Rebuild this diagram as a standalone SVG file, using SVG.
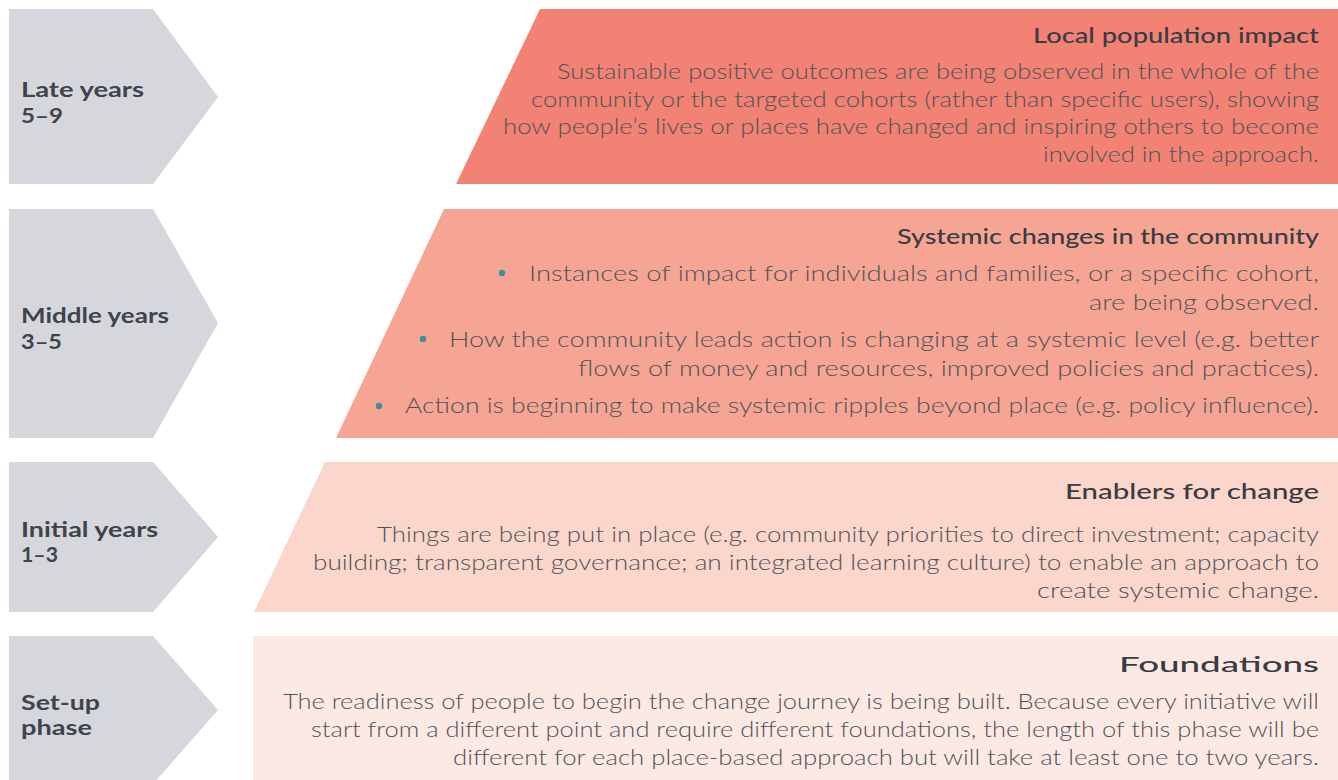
<svg xmlns="http://www.w3.org/2000/svg" width="1338" height="780" viewBox="0 0 1338 780">
<style>
.chev{fill:#d6d7dd}
.lbl{font-family:Lato,"Liberation Sans",sans-serif;font-weight:700;font-size:21px;fill:#3f434c}
.ttl{font-family:Lato,"Liberation Sans",sans-serif;font-weight:500;font-size:21px;fill:#383c45;text-anchor:end}
.body{font-family:Lato,"Liberation Sans",sans-serif;font-weight:300;font-size:21px;fill:#4f535b;text-anchor:end}
.bul{fill:#3a9096}
</style>
<rect width="1338" height="780" fill="#ffffff"/>
<g id="connectors"/>

<g id="phase-late">
<polygon class="chev" points="9,9 153,9 218,97 153,184 9,184"/>
<text class="lbl"><tspan x="21" y="97" textLength="123" lengthAdjust="spacingAndGlyphs">Late years</tspan><tspan x="21" y="123" textLength="42" lengthAdjust="spacingAndGlyphs">5–9</tspan></text>
</g>
<g id="phase-middle">
<polygon class="chev" points="9,209 153,209 218,323 153,438 9,438"/>
<text class="lbl"><tspan x="21" y="323" textLength="148" lengthAdjust="spacingAndGlyphs">Middle years</tspan><tspan x="21" y="349" textLength="41" lengthAdjust="spacingAndGlyphs">3–5</tspan></text>
</g>
<g id="phase-initial">
<polygon class="chev" points="9,462 153,462 218,537 153,612 9,612"/>
<text class="lbl"><tspan x="21" y="537" textLength="137" lengthAdjust="spacingAndGlyphs">Initial years</tspan><tspan x="21" y="562" textLength="37" lengthAdjust="spacingAndGlyphs">1–3</tspan></text>
</g>
<g id="phase-setup">
<polygon class="chev" points="9,636 153,636 218,710 153,784 9,784"/>
<text class="lbl" style="font-size:20px"><tspan x="21" y="710" textLength="79" lengthAdjust="spacingAndGlyphs">Set-up</tspan><tspan x="21" y="735" textLength="71" lengthAdjust="spacingAndGlyphs">phase</tspan></text>
</g>

<g id="local-population-impact">
<polygon points="540,9 1338,9 1338,184 456,184" fill="#f28274"/>
<text class="ttl" x="1319" y="43" textLength="286" lengthAdjust="spacingAndGlyphs">Local population impact</text>
<text class="body" x="1319" y="79" textLength="762" lengthAdjust="spacingAndGlyphs">Sustainable positive outcomes are being observed in the whole of the</text>
<text class="body" x="1319" y="107" textLength="788" lengthAdjust="spacingAndGlyphs">community or the targeted cohorts (rather than specific users), showing</text>
<text class="body" x="1319" y="134" textLength="816" lengthAdjust="spacingAndGlyphs">how people’s lives or places have changed and inspiring others to become</text>
<text class="body" x="1319" y="162" textLength="276" lengthAdjust="spacingAndGlyphs">involved in the approach.</text>
</g>

<g id="systemic-changes">
<polygon points="444,209 1338,209 1338,438 336,438" fill="#f6a595"/>
<text class="ttl" x="1319" y="244" textLength="422" lengthAdjust="spacingAndGlyphs">Systemic changes in the community</text>
<circle class="bul" cx="502" cy="273" r="3.2"/>
<text class="body" x="1319" y="281" textLength="790" lengthAdjust="spacingAndGlyphs">Instances of impact for individuals and families, or a specific cohort,</text>
<text class="body" x="1319" y="310" textLength="230" lengthAdjust="spacingAndGlyphs">are being observed.</text>
<circle class="bul" cx="423" cy="339" r="3.2"/>
<text class="body" x="1319" y="347" textLength="870" lengthAdjust="spacingAndGlyphs">How the community leads action is changing at a systemic level (e.g. better</text>
<text class="body" x="1319" y="376" textLength="741" lengthAdjust="spacingAndGlyphs">flows of money and resources, improved policies and practices).</text>
<circle class="bul" cx="379" cy="406" r="3.2"/>
<text class="body" x="1319" y="413" textLength="914" lengthAdjust="spacingAndGlyphs">Action is beginning to make systemic ripples beyond place (e.g. policy influence).</text>
</g>

<g id="enablers-for-change">
<polygon points="325,462 1338,462 1338,612 254,612" fill="#fbd6cb"/>
<text class="ttl" x="1319" y="499" textLength="254" lengthAdjust="spacingAndGlyphs">Enablers for change</text>
<text class="body" x="1319" y="542" textLength="942" lengthAdjust="spacingAndGlyphs">Things are being put in place (e.g. community priorities to direct investment; capacity</text>
<text class="body" x="1319" y="570" textLength="1006" lengthAdjust="spacingAndGlyphs">building; transparent governance; an integrated learning culture) to enable an approach to</text>
<text class="body" x="1319" y="598" textLength="282" lengthAdjust="spacingAndGlyphs">create systemic change.</text>
</g>

<g id="foundations">
<rect x="253" y="636" width="1085" height="144" fill="#fde9e3"/>
<text class="ttl" x="1319" y="672" textLength="200" lengthAdjust="spacingAndGlyphs">Foundations</text>
<text class="body" x="1319" y="709" textLength="1036" lengthAdjust="spacingAndGlyphs">The readiness of people to begin the change journey is being built. Because every initiative will</text>
<text class="body" x="1319" y="737" textLength="1008" lengthAdjust="spacingAndGlyphs">start from a different point and require different foundations, the length of this phase will be</text>
<text class="body" x="1319" y="765" textLength="866" lengthAdjust="spacingAndGlyphs">different for each place-based approach but will take at least one to two years.</text>
</g>
</svg>
